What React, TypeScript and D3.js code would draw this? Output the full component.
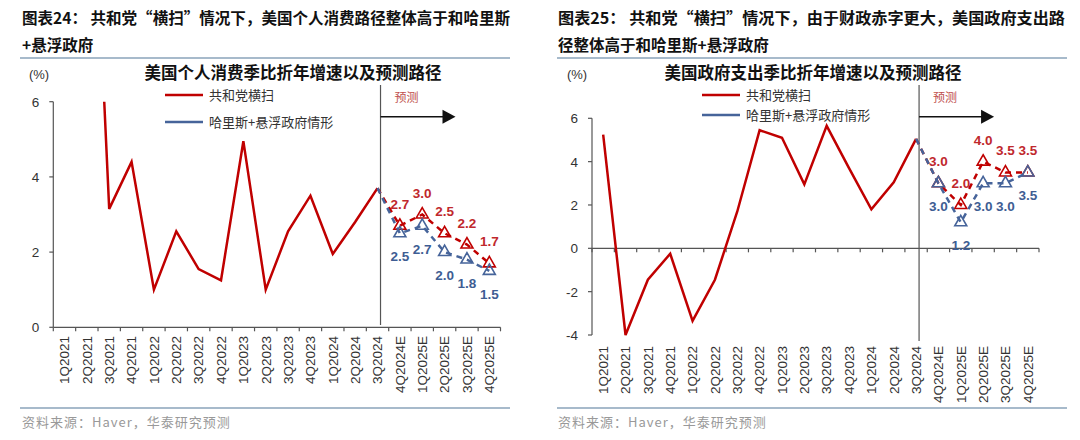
import { useMemo } from 'react';
import * as d3 from 'd3';

// categories
const quarters = [
  '1Q2021', '2Q2021', '3Q2021', '4Q2021',
  '1Q2022', '2Q2022', '3Q2022', '4Q2022',
  '1Q2023', '2Q2023', '3Q2023', '4Q2023',
  '1Q2024', '2Q2024', '3Q2024',
  '4Q2024E', '1Q2025E', '2Q2025E', '3Q2025E', '4Q2025E',
];
const histQuarters = quarters.slice(0, 15);
const forecastQuarters = quarters.slice(14); // starts at 3Q2024

// chart 24: personal consumption (%, q/q saar); first two clipped by the 6% axis max
const pceHistory = [11.4, 16.0, 3.15, 4.4, 1.0, 2.55, 1.55, 1.25, 4.95, 1.0, 2.55, 3.5, 1.95, 2.8, 3.7];
const pceSweep = [3.7, 2.7, 3.0, 2.5, 2.2, 1.7];
const pceHarris = [3.7, 2.5, 2.7, 2.0, 1.8, 1.5];

// chart 25: government spending
const govHistory = [5.25, -4.0, -1.45, -0.25, -3.35, -1.45, 1.7, 5.45, 5.1, 2.95, 5.65, 3.7, 1.8, 3.05, 5.05];
const govSweep = [5.05, 3.0, 2.0, 4.0, 3.5, 3.5];
const govHarris = [5.05, 3.0, 1.2, 3.0, 3.0, 3.5];

const pceTicks = [0, 2, 4, 6];
const govTicks = [-4, -2, 0, 2, 4, 6];

const RED = '#C00000';
const BLUE = '#46649A';
const RED_LABEL = '#C0282D';
const BLUE_LABEL = '#3E5D93';
const RULE = '#8AA3BA';
const CJK = '"Noto Sans CJK SC", "Noto Sans", sans-serif';
const LATIN = '"Liberation Sans", Arial, sans-serif';

interface PanelCfg {
  id: string;
  header: string[];
  headerX: number;
  headerLen: number;
  ruleX: [number, number];
  title: string;
  titleX: number;
  pctX: number;
  x0: number;
  x1: number;
  yDomain: [number, number];
  yRange: [number, number];
  yTicks: number[];
  labelTop: number;
  dividerBottom: number;
  legendX: number;
  legendY: [number, number];
  history: number[];
  sweep: number[];
  harris: number[];
}

const panels: PanelCfg[] = [
  {
    id: 'pce',
    header: ['图表24：  共和党“横扫”情况下，美国个人消费路径整体高于和哈里斯', '+悬浮政府'],
    headerX: 22,
    headerLen: 488,
    ruleX: [20, 510],
    title: '美国个人消费季比折年增速以及预测路径',
    titleX: 293,
    pctX: 39,
    x0: 53.3,
    x1: 500.5,
    yDomain: [0, 6],
    yRange: [327.3, 101.7],
    yTicks: pceTicks,
    labelTop: 336,
    dividerBottom: 325,
    legendX: 165,
    legendY: [95, 122],
    history: pceHistory,
    sweep: pceSweep,
    harris: pceHarris,
  },
  {
    id: 'gov',
    header: ['图表25：  共和党“横扫”情况下，由于财政赤字更大，美国政府支出路', '径整体高于和哈里斯+悬浮政府'],
    headerX: 558,
    headerLen: 507,
    ruleX: [557, 1067],
    title: '美国政府支出季比折年增速以及预测路径',
    titleX: 813,
    pctX: 577,
    x0: 592,
    x1: 1039,
    yDomain: [-4, 6],
    yRange: [335, 118.3],
    yTicks: govTicks,
    labelTop: 346,
    dividerBottom: 341,
    legendX: 702,
    legendY: [95, 115],
    history: govHistory,
    sweep: govSweep,
    harris: govHarris,
  },
];

function Panel({ cfg }: { cfg: PanelCfg }) {
  const x = useMemo(
    () => d3.scaleBand<string>().domain(quarters).range([cfg.x0, cfg.x1]).padding(0),
    [cfg]
  );
  const y = useMemo(() => d3.scaleLinear().domain(cfg.yDomain).range(cfg.yRange), [cfg]);
  const cx = (q: string) => (x(q) ?? 0) + x.bandwidth() / 2;

  const histLine = d3.line<number>().x((_, i) => cx(histQuarters[i])).y((d) => y(d));
  const fcLine = d3.line<number>().x((_, i) => cx(forecastQuarters[i])).y((d) => y(d));
  const tri = d3.symbol(d3.symbolTriangle, 62)() ?? '';

  const y0 = y(Math.max(cfg.yDomain[0], 0));
  const divX = cx('3Q2024') + 3;
  const clipId = `clip-${cfg.id}`;
  const boundaries = [...quarters.map((q) => x(q) ?? 0), cfg.x1];

  return (
    <g>
      <defs>
        <clipPath id={clipId}>
          <rect x={cfg.x0} y={cfg.yRange[1]} width={cfg.x1 - cfg.x0} height={cfg.yRange[0] - cfg.yRange[1] + 2} />
        </clipPath>
      </defs>

      {/* header */}
      {cfg.header.map((line, i) => (
        <text
          key={i}
          x={cfg.headerX}
          y={24 + i * 27}
          fontFamily={CJK}
          fontWeight={700}
          fontSize={15.5}
          fill="#111"
          textLength={i === 0 ? cfg.headerLen : undefined}
          lengthAdjust="spacingAndGlyphs"
        >
          {line}
        </text>
      ))}
      <line x1={cfg.ruleX[0]} x2={cfg.ruleX[1]} y1={58} y2={58} stroke={RULE} strokeWidth={1.6} />

      {/* chart title + unit */}
      <text x={cfg.titleX} y={79} textAnchor="middle" fontFamily={CJK} fontWeight={700} fontSize={16.5} fill="#111">
        {cfg.title}
      </text>
      <text x={cfg.pctX} y={79} textAnchor="middle" fontFamily={LATIN} fontSize={13} fill="#333">
        (%)
      </text>

      {/* y axis */}
      <line x1={cfg.x0} x2={cfg.x0} y1={cfg.yRange[1]} y2={cfg.yRange[0]} stroke="#555" strokeWidth={1.2} />
      {cfg.yTicks.map((t) => (
        <g key={t} transform={`translate(0,${y(t)})`}>
          <line x1={cfg.x0 - 4} x2={cfg.x0} stroke="#555" strokeWidth={1.2} />
          <text x={cfg.x0 - 14} y={5} textAnchor="end" fontFamily={LATIN} fontSize={13.5} fill="#333">
            {t}
          </text>
        </g>
      ))}

      {/* x axis at zero */}
      <line x1={cfg.x0} x2={cfg.x1} y1={y0} y2={y0} stroke="#555" strokeWidth={1.2} />
      {boundaries.map((b, i) => (
        <line key={i} x1={b} x2={b} y1={y0} y2={y0 + 4} stroke="#555" strokeWidth={1.2} />
      ))}
      {quarters.map((q) => (
        <text
          key={q}
          transform={`translate(${cx(q) + 4.8},${cfg.labelTop}) rotate(-90)`}
          textAnchor="end"
          fontFamily={LATIN}
          fontSize={13.5}
          fill="#333"
        >
          {q}
        </text>
      ))}

      {/* forecast divider + arrow */}
      <line x1={divX} x2={divX} y1={85} y2={cfg.dividerBottom} stroke="#555" strokeWidth={1.2} />
      <text x={divX + 26} y={102} textAnchor="middle" fontFamily={CJK} fontSize={12} fill="#C0504D">
        预测
      </text>
      <line x1={divX} x2={divX + 63} y1={116.7} y2={116.7} stroke="#111" strokeWidth={1.4} />
      <path d={`M${divX + 62},${109.7}L${divX + 75},${116.7}L${divX + 62},${123.7}Z`} fill="#111" />

      {/* legend */}
      <line x1={cfg.legendX} x2={cfg.legendX + 38} y1={cfg.legendY[0]} y2={cfg.legendY[0]} stroke={RED} strokeWidth={2.5} />
      <text x={cfg.legendX + 44} y={cfg.legendY[0] + 4.5} fontFamily={CJK} fontSize={13} fill="#333">
        共和党横扫
      </text>
      <line x1={cfg.legendX} x2={cfg.legendX + 38} y1={cfg.legendY[1]} y2={cfg.legendY[1]} stroke={BLUE} strokeWidth={2.5} />
      <text x={cfg.legendX + 44} y={cfg.legendY[1] + 4.5} fontFamily={CJK} fontSize={13} fill="#333">
        哈里斯+悬浮政府情形
      </text>

      {/* lines */}
      <g clipPath={`url(#${clipId})`}>
        <path d={histLine(cfg.history) ?? ''} fill="none" stroke={RED} strokeWidth={2.5} strokeLinejoin="miter" />
      </g>
      <path d={fcLine(cfg.sweep) ?? ''} fill="none" stroke={RED} strokeWidth={2.5} strokeDasharray="6,5" />
      {cfg.sweep.slice(1).map((v, i) => (
        <path key={i} d={tri} transform={`translate(${cx(forecastQuarters[i + 1])},${y(v)})`} fill="none" stroke={RED} strokeWidth={1.6} />
      ))}
      <path d={fcLine(cfg.harris) ?? ''} fill="none" stroke={BLUE} strokeWidth={2.5} strokeDasharray="6,5" />
      {cfg.harris.slice(1).map((v, i) => (
        <path key={i} d={tri} transform={`translate(${cx(forecastQuarters[i + 1])},${y(v)})`} fill="none" stroke={BLUE} strokeWidth={1.6} />
      ))}

      {/* value labels */}
      {cfg.sweep.slice(1).map((v, i) => (
        <text key={`r${i}`} x={cx(forecastQuarters[i + 1])} y={y(v) - 17} textAnchor="middle" fontFamily={LATIN} fontWeight={700} fontSize={13.5} fill={RED_LABEL}>
          {v.toFixed(1)}
        </text>
      ))}
      {cfg.harris.slice(1).map((v, i) => (
        <text key={`b${i}`} x={cx(forecastQuarters[i + 1])} y={y(v) + 28} textAnchor="middle" fontFamily={LATIN} fontWeight={700} fontSize={13.5} fill={BLUE_LABEL}>
          {v.toFixed(1)}
        </text>
      ))}

      {/* footer */}
      <line x1={cfg.ruleX[0]} x2={cfg.ruleX[1]} y1={408} y2={408} stroke={RULE} strokeWidth={1.6} />
      <text x={cfg.headerX} y={427} fontFamily={CJK} fontSize={13} letterSpacing={1} fill="#999">
        资料来源：Haver，华泰研究预测
      </text>
    </g>
  );
}

export default function App() {
  return (
    <div style={{ position: 'absolute', left: 0, top: 0 }}>
      <svg width={1080} height={440} style={{ display: 'block', background: '#fff' }}>
        {panels.map((p) => (
          <Panel key={p.id} cfg={p} />
        ))}
      </svg>
    </div>
  );
}
